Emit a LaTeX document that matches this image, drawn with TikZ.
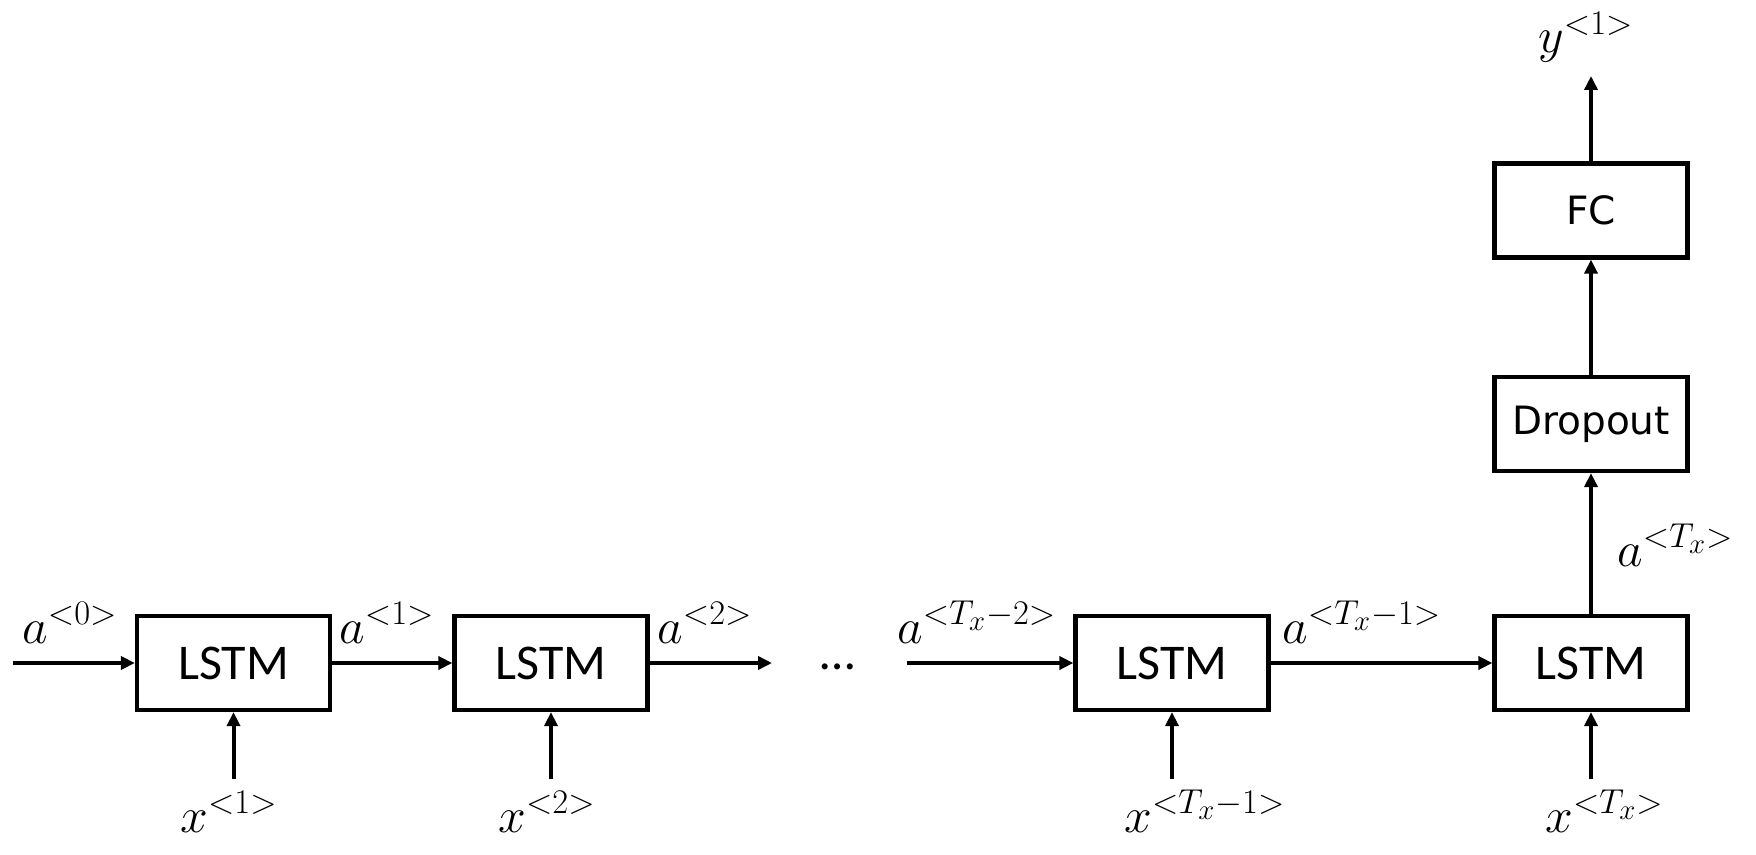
\documentclass[tikz,border=0pt]{standalone}
\usepackage{fontspec}
\usetikzlibrary{arrows.meta}
\newfontfamily\lstmfont{Carlito}
\newfontfamily\layerfont{DejaVu Sans}
\begin{document}
\begin{tikzpicture}[x=0.5pt,y=-0.5pt,
  cell/.style={draw,line width=2.1pt,minimum width=96.5pt,minimum height=47pt,inner sep=0pt,
    font=\lstmfont\fontsize{25}{30}\selectfont},
  layer/.style={draw,line width=2.1pt,minimum width=96.5pt,minimum height=47pt,inner sep=0pt,
    font=\layerfont\fontsize{19.5}{23}\selectfont},
  lbl/.style={anchor=base west,inner sep=0pt,font=\fontsize{26.5}{30}\selectfont},
  arr/.style={line width=2pt,-{Triangle[length=7pt,width=6.5pt]}}]
\useasboundingbox (0,0) rectangle (1756,855);
% boxes
\node[cell] (l1) at (233.5,663) {LSTM};
\node[cell] (l2) at (551,663) {LSTM};
\node[cell] (l3) at (1172,663) {LSTM};
\node[cell] (l4) at (1591,663) {LSTM};
\node[layer] (drop) at (1591,424) {Dropout};
\node[layer] (fc) at (1591,210.5) {FC};
% free ends
\coordinate (a0s) at (13,663);
\coordinate (a2e) at (772,663);
\coordinate (atx2s) at (907,663);
\coordinate (ye) at (1591,76);
\coordinate (x1s) at (233.5,779);
\coordinate (x2s) at (551,779);
\coordinate (x3s) at (1172,779);
\coordinate (x4s) at (1591,779);
% horizontal chain
\draw[arr] (a0s) -- (l1.west);
\draw[arr] (l1.east) -- (l2.west);
\draw[arr] (l2.east) -- (a2e);
\draw[arr] (atx2s) -- (l3.west);
\draw[arr] (l3.east) -- (l4.west);
% vertical
\draw[arr] (l4.north) -- (drop.south);
\draw[arr] (drop.north) -- (fc.south);
\draw[arr] (fc.north) -- (ye);
\draw[arr] (x1s) -- (l1.south);
\draw[arr] (x2s) -- (l2.south);
\draw[arr] (x3s) -- (l3.south);
\draw[arr] (x4s) -- (l4.south);
% dots
\node[inner sep=0pt,anchor=base,font=\lstmfont\fontsize{25}{30}\selectfont] (dots) at (838,669) {\dots};
% labels
\node[lbl] (la0) at (22,643) {$a^{<0>}$};
\node[lbl] (la1) at (339,643) {$a^{<1>}$};
\node[lbl] (la2) at (657,643) {$a^{<2>}$};
\node[lbl] (latx2) at (897,643) {$a^{<T_x-2>}$};
\node[lbl] (latx1) at (1282,643) {$a^{<T_x-1>}$};
\node[lbl] (latx) at (1617,566) {$a^{<T_x>}$};
\node[lbl] (ly) at (1538,53) {$y^{<1>}$};
\node[lbl] (lx1) at (180,832) {$x^{<1>}$};
\node[lbl] (lx2) at (498,832) {$x^{<2>}$};
\node[lbl] (lx3) at (1124,832) {$x^{<T_x-1>}$};
\node[lbl] (lx4) at (1545,832) {$x^{<T_x>}$};
\end{tikzpicture}
\end{document}
